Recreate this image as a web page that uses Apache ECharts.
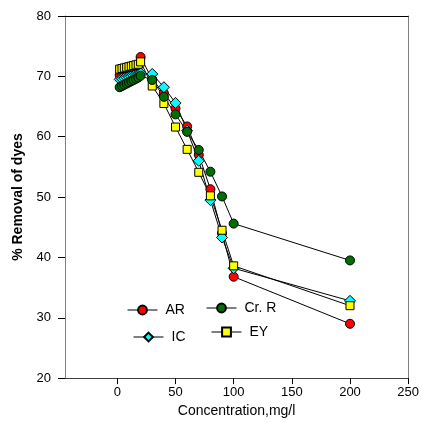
<!DOCTYPE html>
<html><head><meta charset="utf-8">
<script src="https://cdn.jsdelivr.net/npm/echarts@6/dist/echarts.min.js"></script>
<style>html,body{margin:0;padding:0;background:#fff}#c{width:422px;height:423px}</style>
</head><body><div id="c"></div>
<script>
var conc = [2,4,6,8,10,12,14,16,18,20,30,40,50,60,70,80,90,100,200];
var AR  = [70.2,70.4,70.6,70.8,71.0,71.2,71.4,71.6,71.8,73.2,69.5,67.2,64.7,61.7,57.0,51.3,44.0,36.8,29.0];
var IC  = [69.5,69.6,69.7,69.8,69.9,70.0,70.1,70.2,70.3,70.5,70.4,68.2,65.6,61.0,56.0,49.5,43.3,38.2,32.8];
var EY  = [71.2,71.3,71.4,71.5,71.6,71.7,71.8,71.9,72.0,72.4,68.4,65.5,61.6,57.9,54.1,50.2,44.5,38.6,32.0];
var CrR = [68.2,68.4,68.6,68.8,69.0,69.2,69.4,69.6,69.8,70.1,69.4,66.6,63.7,60.8,57.8,54.2,50.1,45.6,39.5];
var xTicks = [0,50,100,150,200,250];

function pairs(v){ return conc.map(function(c,i){ return [c, v[i]]; }); }
var font = 'Liberation Sans, Arial, sans-serif';
function ser(name, data, sym, size, color){
  return {name:name, type:'line', data:pairs(data), symbol:sym, symbolSize:size,
    showSymbol:true, lineStyle:{color:'#000', width:1}, itemStyle:{color:color, borderColor:'#000', borderWidth:1},
    emphasis:{disabled:true}, animation:false};
}
function leg(name, left, top){
  return {data:[name], left:left, top:top, itemWidth:30, itemHeight:11, itemGap:0,
    lineStyle:{width:1, color:'#000'},
    textStyle:{fontFamily:font, fontSize:14, color:'#000', padding:[0,0,0,3]}, selectedMode:false, padding:0};
}
var chart = echarts.init(document.getElementById('c'), null, {renderer:'canvas'});
chart.setOption({
  animation:false,
  backgroundColor:'#fff',
  grid:{left:65, right:12, top:16, bottom:43},
  legend:[leg('AR',127,303), leg('Cr. R',206,301), leg('IC',133,330), leg('EY',211,325)],
  xAxis:[{type:'value', min:-45, max:250, position:'bottom',
    name:'Concentration,mg/l', nameLocation:'middle', nameGap:22,
    nameTextStyle:{fontFamily:font, fontSize:14, color:'#000'},
    axisLine:{show:true, onZero:false, lineStyle:{color:'#404040', width:1}},
    axisTick:{show:true, inside:false, length:6, customValues:xTicks, lineStyle:{color:'#000'}},
    axisLabel:{customValues:xTicks, fontFamily:font, fontSize:13, color:'#000', margin:8},
    splitLine:{show:false}},
   {type:'value', min:-45, max:250, position:'top',
    axisLine:{show:true, onZero:false, lineStyle:{color:'#000', width:1}},
    axisTick:{show:false}, axisLabel:{show:false}, splitLine:{show:false}}],
  yAxis:[{type:'value', min:20, max:80, interval:10, position:'left',
    name:'% Removal of dyes', nameLocation:'middle', nameGap:35, nameRotate:90,
    nameTextStyle:{fontFamily:font, fontSize:14, fontWeight:'bold', color:'#000'},
    axisLine:{show:true, onZero:false, lineStyle:{color:'#808080', width:1}},
    axisTick:{show:true, inside:false, length:7, lineStyle:{color:'#000'}},
    axisLabel:{fontFamily:font, fontSize:13, color:'#000', margin:14},
    splitLine:{show:false}},
   {type:'value', min:20, max:80, interval:10, position:'right',
    axisLine:{show:true, onZero:false, lineStyle:{color:'#808080', width:1}},
    axisTick:{show:false}, axisLabel:{show:false}, splitLine:{show:false}}],
  series:[
    ser('AR', AR, 'circle', 9, '#ff0000'),
    ser('IC', IC, 'diamond', 11, '#00ffff'),
    ser('EY', EY, 'rect', 8, '#ffff00'),
    ser('Cr. R', CrR, 'circle', 9, '#006f00')
  ]
});
</script></body></html>
